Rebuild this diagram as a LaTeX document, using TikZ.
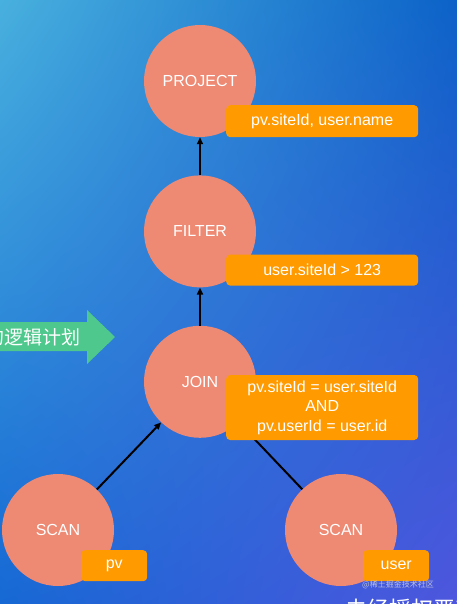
\documentclass[tikz,border=0pt]{standalone}
\usepackage{fontspec}
\setmainfont{Liberation Sans}
\newfontfamily\cjk{Noto Sans CJK SC}
\usetikzlibrary{arrows.meta, positioning, calc, shadings}

\definecolor{bgul}{RGB}{72,176,222}
\definecolor{bgur}{RGB}{12,98,200}
\definecolor{bgll}{RGB}{22,104,212}
\definecolor{bglr}{RGB}{78,86,222}
\definecolor{opnode}{RGB}{238,137,115}
\definecolor{tagfill}{RGB}{255,154,0}
\definecolor{hintgreen}{RGB}{78,200,140}

\begin{document}
\begin{tikzpicture}[x=1pt, y=-1pt,
  op/.style={circle, fill=opnode, minimum size=112pt, inner sep=0pt,
             text=white, font=\fontsize{16}{19}\selectfont},
  tag/.style={fill=tagfill, rounded corners=4pt, anchor=north west, align=center,
              text=white, inner sep=2pt, font=\fontsize{16}{19.5}\selectfont},
  arrow/.style={-{Triangle[length=7pt, width=6pt]}, line width=2pt},
  link/.style={line width=2pt}
]
\useasboundingbox (0,0) rectangle (457,604);
\clip (0,0) rectangle (457,604);
%% BACKGROUND
\shade[upper left=bgul, upper right=bgur, lower left=bgll, lower right=bglr]
  (0,0) rectangle (457,604);
%% HINT ARROW
\fill[hintgreen] (0,322) -- (87,322) -- (87,310) -- (115,337) -- (87,364)
  -- (87,351) -- (0,351) -- cycle;
\node[anchor=east, text=white, inner sep=0pt, font=\cjk\fontsize{19}{21}\selectfont]
  (hint) at (81,337) {的逻辑计划};
%% OPERATORS
\node[op] (proj) at (200,81)   {PROJECT};
\node[op, below=38pt of proj] (filt) {FILTER};
\node[op, below=38pt of filt] (join) {JOIN};
\node[op] (scanpv)   at (58,530)  {SCAN};
\node[op] (scanuser) at (341,530) {SCAN};
%% EDGES
\draw[arrow] (filt) -- (proj);
\draw[arrow] (join) -- (filt);
\draw[arrow] (scanpv) -- (join);
\draw[link]  (join) -- (scanuser);
%% TAGS
\node[tag, minimum width=192pt, minimum height=32pt]
  (projtag) at ([xshift=26pt, yshift=-24pt]proj.center) {pv.siteId, user.name};
\node[tag, minimum width=192pt, minimum height=31pt]
  (filttag) at ([xshift=26pt, yshift=-23pt]filt.center) {user.siteId > 123};
\node[tag, minimum width=192pt, minimum height=65pt]
  (jointag) at ([xshift=26pt, yshift=7pt]join.center)
  {pv.siteId = user.siteId\\AND\\pv.userId = user.id};
\node[tag, minimum width=66pt, minimum height=31pt]
  (pvtag) at ([xshift=23pt, yshift=-20pt]scanpv.center) {pv};
\node[tag, minimum width=66pt, minimum height=31pt]
  (usertag) at ([xshift=22pt, yshift=-20pt]scanuser.center) {user};
%% MARKS
\node[anchor=north, text=white!70!gray, opacity=0.8, inner sep=0pt,
      font=\cjk\fontsize{8}{9}\selectfont] (mark) at (398,580) {@稀土掘金技术社区};
\node[anchor=north west, text=white, inner sep=0pt,
      font=\cjk\fontsize{22}{24}\selectfont] (foot) at (345,599) {未经授权严禁};
\end{tikzpicture}
\end{document}
